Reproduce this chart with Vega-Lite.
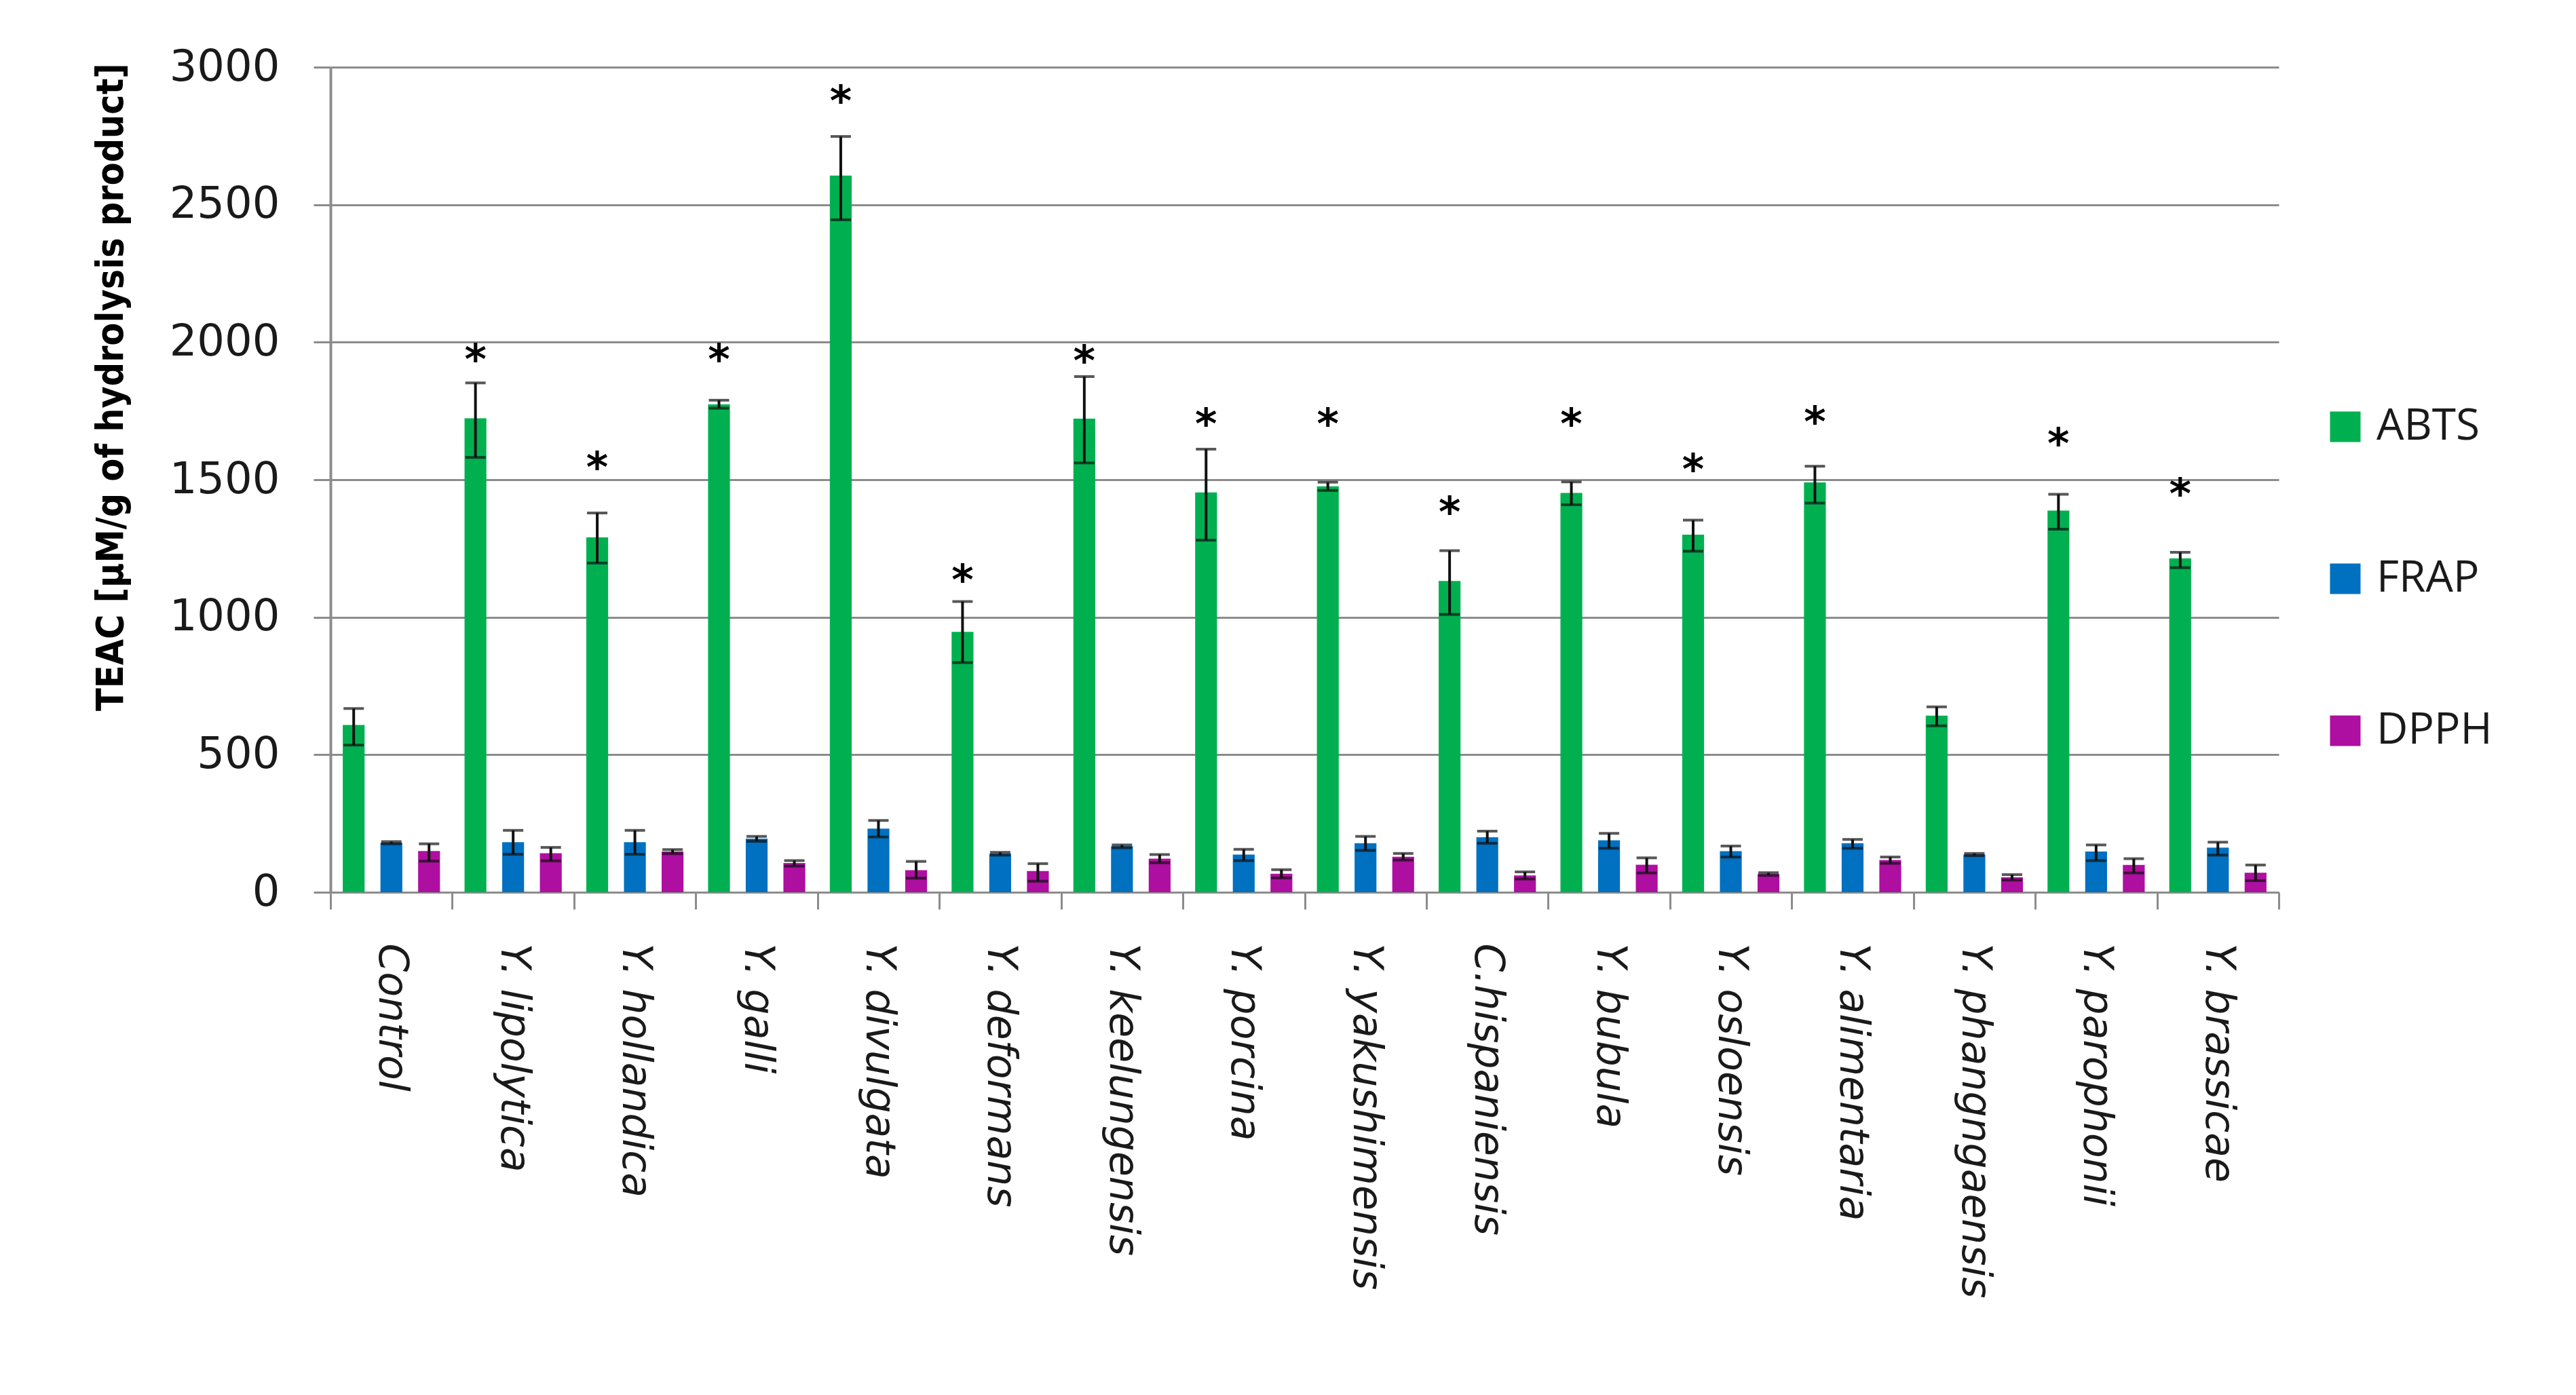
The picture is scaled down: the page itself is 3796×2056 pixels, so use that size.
{
  "$schema": "https://vega.github.io/schema/vega-lite/v6.json",
  "width": 2871,
  "height": 1216,
  "autosize": {"type": "none"},
  "padding": {"left": 487, "top": 99, "right": 438, "bottom": 741},
  "background": "white",
  "config": {
    "view": {"stroke": null},
    "font": "DejaVu Sans",
    "axisY": {
      "grid": true, "gridColor": "#8c8c8c", "gridWidth": 3,
      "domainColor": "#8c8c8c", "domainWidth": 4,
      "tickColor": "#8c8c8c", "tickSize": 25, "tickWidth": 3,
      "labelFont": "DejaVu Sans", "labelFontSize": 64, "labelPadding": 50, "labelColor": "#1a1a1a", "labelLimit": 0,
      "format": "d",
      "titleFont": "DejaVu Sans Condensed", "titleFontWeight": "bold", "titleFontSize": 55, "titleColor": "#000000",
      "titleY": 471, "titlePadding": 95, "tickCount": 6, "titleLimit": 0
    }
  },
  "data": {"values": [
    {"strain": "Control", "assay": "ABTS", "value": 608, "lo": 535, "hi": 668, "star": null},
    {"strain": "Control", "assay": "FRAP", "value": 180, "lo": 176, "hi": 184, "star": null},
    {"strain": "Control", "assay": "DPPH", "value": 150, "lo": 113, "hi": 176, "star": null},
    {"strain": "Y. lipolytica", "assay": "ABTS", "value": 1723, "lo": 1581, "hi": 1852, "star": 1964},
    {"strain": "Y. lipolytica", "assay": "FRAP", "value": 182, "lo": 138, "hi": 225, "star": null},
    {"strain": "Y. lipolytica", "assay": "DPPH", "value": 142, "lo": 114, "hi": 163, "star": null},
    {"strain": "Y. hollandica", "assay": "ABTS", "value": 1290, "lo": 1197, "hi": 1379, "star": 1572},
    {"strain": "Y. hollandica", "assay": "FRAP", "value": 182, "lo": 138, "hi": 225, "star": null},
    {"strain": "Y. hollandica", "assay": "DPPH", "value": 148, "lo": 140, "hi": 155, "star": null},
    {"strain": "Y. galli", "assay": "ABTS", "value": 1774, "lo": 1760, "hi": 1789, "star": 1964},
    {"strain": "Y. galli", "assay": "FRAP", "value": 195, "lo": 185, "hi": 203, "star": null},
    {"strain": "Y. galli", "assay": "DPPH", "value": 106, "lo": 95, "hi": 115, "star": null},
    {"strain": "Y. divulgata", "assay": "ABTS", "value": 2606, "lo": 2445, "hi": 2748, "star": 2905},
    {"strain": "Y. divulgata", "assay": "FRAP", "value": 231, "lo": 201, "hi": 261, "star": null},
    {"strain": "Y. divulgata", "assay": "DPPH", "value": 80, "lo": 51, "hi": 112, "star": null},
    {"strain": "Y. deformans", "assay": "ABTS", "value": 947, "lo": 835, "hi": 1057, "star": 1163},
    {"strain": "Y. deformans", "assay": "FRAP", "value": 140, "lo": 135, "hi": 145, "star": null},
    {"strain": "Y. deformans", "assay": "DPPH", "value": 77, "lo": 40, "hi": 104, "star": null},
    {"strain": "Y. keelungensis", "assay": "ABTS", "value": 1722, "lo": 1561, "hi": 1875, "star": 1960},
    {"strain": "Y. keelungensis", "assay": "FRAP", "value": 167, "lo": 162, "hi": 172, "star": null},
    {"strain": "Y. keelungensis", "assay": "DPPH", "value": 122, "lo": 107, "hi": 137, "star": null},
    {"strain": "Y. porcina", "assay": "ABTS", "value": 1454, "lo": 1280, "hi": 1611, "star": 1729},
    {"strain": "Y. porcina", "assay": "FRAP", "value": 137, "lo": 115, "hi": 156, "star": null},
    {"strain": "Y. porcina", "assay": "DPPH", "value": 67, "lo": 52, "hi": 82, "star": null},
    {"strain": "Y. yakushimensis", "assay": "ABTS", "value": 1476, "lo": 1461, "hi": 1491, "star": 1729},
    {"strain": "Y. yakushimensis", "assay": "FRAP", "value": 178, "lo": 152, "hi": 203, "star": null},
    {"strain": "Y. yakushimensis", "assay": "DPPH", "value": 129, "lo": 117, "hi": 141, "star": null},
    {"strain": "C.hispaniensis", "assay": "ABTS", "value": 1132, "lo": 1010, "hi": 1242, "star": 1409},
    {"strain": "C.hispaniensis", "assay": "FRAP", "value": 200, "lo": 178, "hi": 222, "star": null},
    {"strain": "C.hispaniensis", "assay": "DPPH", "value": 61, "lo": 48, "hi": 74, "star": null},
    {"strain": "Y. bubula", "assay": "ABTS", "value": 1452, "lo": 1409, "hi": 1492, "star": 1729},
    {"strain": "Y. bubula", "assay": "FRAP", "value": 189, "lo": 160, "hi": 214, "star": null},
    {"strain": "Y. bubula", "assay": "DPPH", "value": 100, "lo": 70, "hi": 125, "star": null},
    {"strain": "Y. osloensis", "assay": "ABTS", "value": 1300, "lo": 1240, "hi": 1353, "star": 1565},
    {"strain": "Y. osloensis", "assay": "FRAP", "value": 149, "lo": 128, "hi": 168, "star": null},
    {"strain": "Y. osloensis", "assay": "DPPH", "value": 66, "lo": 61, "hi": 71, "star": null},
    {"strain": "Y. alimentaria", "assay": "ABTS", "value": 1490, "lo": 1415, "hi": 1549, "star": 1737},
    {"strain": "Y. alimentaria", "assay": "FRAP", "value": 178, "lo": 160, "hi": 192, "star": null},
    {"strain": "Y. alimentaria", "assay": "DPPH", "value": 117, "lo": 105, "hi": 128, "star": null},
    {"strain": "Y. phangngaensis", "assay": "ABTS", "value": 642, "lo": 605, "hi": 674, "star": null},
    {"strain": "Y. phangngaensis", "assay": "FRAP", "value": 137, "lo": 133, "hi": 141, "star": null},
    {"strain": "Y. phangngaensis", "assay": "DPPH", "value": 54, "lo": 44, "hi": 64, "star": null},
    {"strain": "Y. parophonii", "assay": "ABTS", "value": 1388, "lo": 1320, "hi": 1447, "star": 1659},
    {"strain": "Y. parophonii", "assay": "FRAP", "value": 148, "lo": 115, "hi": 172, "star": null},
    {"strain": "Y. parophonii", "assay": "DPPH", "value": 99, "lo": 70, "hi": 122, "star": null},
    {"strain": "Y. brassicae", "assay": "ABTS", "value": 1214, "lo": 1180, "hi": 1236, "star": 1476},
    {"strain": "Y. brassicae", "assay": "FRAP", "value": 162, "lo": 135, "hi": 182, "star": null},
    {"strain": "Y. brassicae", "assay": "DPPH", "value": 71, "lo": 42, "hi": 99, "star": null}
  ]},
  "encoding": {
    "x": {
      "field": "strain", "type": "nominal", "sort": null,
      "scale": {"paddingInner": 0, "paddingOuter": 0},
      "axis": {
        "title": null, "labelAngle": 90, "labelFont": "DejaVu Sans", "labelFontStyle": "italic",
        "labelFontSize": 60, "labelColor": "#1a1a1a", "tickBand": "extent", "tickSize": 25,
        "tickColor": "#8c8c8c", "tickWidth": 3, "domainColor": "#8c8c8c", "domainWidth": 3,
        "labelPadding": 50, "labelAlign": "left", "labelBaseline": "middle", "grid": false, "labelLimit": 0
      }
    },
    "xOffset": {
      "field": "assay", "type": "nominal", "sort": ["ABTS", "FRAP", "DPPH"],
      "scale": {"paddingInner": 0.42, "paddingOuter": 0.326}
    }
  },
  "layer": [
    {
      "mark": {"type": "bar"},
      "encoding": {
        "y": {"field": "value", "type": "quantitative", "title": "TEAC [µM/g of hydrolysis product]",
              "scale": {"domain": [0, 3000], "nice": false}},
        "color": {
          "field": "assay", "type": "nominal",
          "scale": {"domain": ["ABTS", "FRAP", "DPPH"], "range": ["#00B050", "#0070C0", "#AE0FA0"]},
          "legend": {
            "orient": "none", "legendX": 2937, "legendY": 498, "title": null,
            "symbolType": "square", "symbolSize": 2025, "symbolStrokeWidth": 0, "symbolOpacity": 1,
            "labelFont": "Open Sans", "labelFontSize": 64, "labelColor": "#1a1a1a", "labelLimit": 0,
            "rowPadding": 160, "labelOffset": 14, "padding": 0
          }
        }
      }
    },
    {
      "mark": {"type": "rule", "color": "#111111", "strokeWidth": 4},
      "encoding": {
        "y": {"field": "lo", "type": "quantitative", "title": "TEAC [µM/g of hydrolysis product]"},
        "y2": {"field": "hi"}
      }
    },
    {
      "mark": {"type": "tick", "color": "#111111", "thickness": 4, "size": 30, "orient": "horizontal"},
      "encoding": {"y": {"field": "lo", "type": "quantitative", "title": "TEAC [µM/g of hydrolysis product]"}}
    },
    {
      "mark": {"type": "tick", "color": "#111111", "thickness": 4, "size": 30, "orient": "horizontal"},
      "encoding": {"y": {"field": "hi", "type": "quantitative", "title": "TEAC [µM/g of hydrolysis product]"}}
    },
    {
      "transform": [{"filter": "datum.star != null"}],
      "mark": {"type": "text", "text": "*", "fontSize": 62, "fontWeight": "bold", "dy": 32, "baseline": "alphabetic", "color": "#000000", "font": "DejaVu Sans"},
      "encoding": {"y": {"field": "star", "type": "quantitative", "title": "TEAC [µM/g of hydrolysis product]"}}
    }
  ]
}
